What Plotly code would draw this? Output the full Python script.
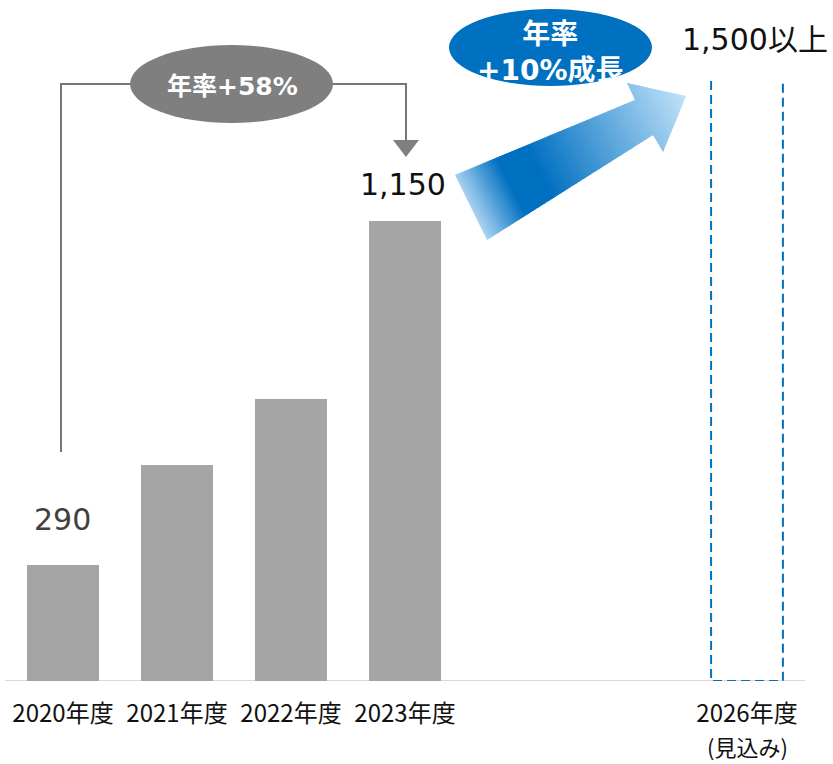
import plotly.graph_objects as go

# ---- data -------------------------------------------------------------
years = ["2020年度", "2021年度", "2022年度", "2023年度"]
sales = [290, 540, 705, 1150]
outlook_year = "2026年度"
outlook_note = "(見込み)"
outlook_value = 1500
outlook_text = "1,500以上"
cagr_past = "年率+58%"
cagr_future = "年率<br>+10%成長"

# slot positions on a numeric x axis (2026 sits three slots after 2023)
x_pos = [0, 1, 2, 3]
x_outlook = 6

W, H = 833, 764
BASE_PX = 681          # pixel row of the category axis
BAR_W = 0.63
BAR_COLOR = "#A5A5A5"
BLUE = "#0070C0"
GRAY = "#7F7F7F"
NUM_FONT = "DejaVu Sans, Noto Sans CJK JP, sans-serif"
JP_FONT = "Noto Sans CJK JP, sans-serif"


def px(x, y):
    """pixel position -> paper coordinates"""
    return x / W, 1 - y / H


def path_from(points):
    parts = []
    for i, (x, y) in enumerate(points):
        u, v = px(x, y)
        parts.append(("M" if i == 0 else "L") + f"{u:.5f},{v:.5f}")
    return " ".join(parts) + " Z"


fig = go.Figure()

fig.add_trace(go.Bar(
    x=x_pos, y=sales, width=BAR_W,
    marker=dict(color=BAR_COLOR, line=dict(width=0)),
    hoverinfo="skip", showlegend=False,
))

shapes = []
annotations = []

# category axis line
shapes.append(dict(type="line", xref="paper", yref="y",
                   x0=5 / W, x1=805 / W, y0=0, y1=0,
                   line=dict(color="#D9D9D9", width=2), layer="below"))

# dashed outline of the 2026 outlook bar (no top edge)
xl, xr = x_outlook - BAR_W / 2, x_outlook + BAR_W / 2
shapes.append(dict(type="path", xref="x", yref="y",
                   path=f"M{xl},{outlook_value} L{xl},0 L{xr},0 L{xr},{outlook_value}",
                   line=dict(color=BLUE, width=2, dash="9px,5px")))

# bracket from the 2020 bar to the 2023 bar
bracket = [(61, 452), (61, 84), (406, 84), (406, 142)]
bpath = " ".join(("M" if i == 0 else "L") + "%.5f,%.5f" % px(*p) for i, p in enumerate(bracket))
shapes.append(dict(type="path", xref="paper", yref="paper", path=bpath,
                   line=dict(color="#767676", width=2)))
shapes.append(dict(type="path", xref="paper", yref="paper",
                   path=path_from([(393, 140), (419, 140), (406, 157)]),
                   fillcolor=GRAY, line=dict(width=0)))

# gray growth bubble
x0, y1 = px(130, 45)
x1, y0 = px(333, 123)
shapes.append(dict(type="circle", xref="paper", yref="paper",
                   x0=x0, x1=x1, y0=y0, y1=y1,
                   fillcolor=GRAY, line=dict(width=0)))

# blue growth bubble
x0, y1 = px(449, 9)
x1, y0 = px(652, 86)
shapes.append(dict(type="circle", xref="paper", yref="paper",
                   x0=x0, x1=x1, y0=y0, y1=y1,
                   fillcolor=BLUE, line=dict(width=0)))

# ---- gradient arrow toward the 2026 outlook -----------------------------
arrow = [(455, 175), (635, 100), (627, 83), (686, 96), (663, 152), (653, 135), (487, 240)]
tail_mid = ((455 + 487) / 2, (175 + 240) / 2)
tip = (686, 96)
dx, dy = tip[0] - tail_mid[0], tip[1] - tail_mid[1]
L = (dx * dx + dy * dy) ** 0.5
ux, uy = dx / L, dy / L


def tval(p):
    return ((p[0] - tail_mid[0]) * ux + (p[1] - tail_mid[1]) * uy) / L


def clip(poly, t, keep_above):
    out = []
    n = len(poly)
    for i in range(n):
        a, b = poly[i], poly[(i + 1) % n]
        fa, fb = tval(a) - t, tval(b) - t
        if not keep_above:
            fa, fb = -fa, -fb
        if fa >= 0:
            out.append(a)
        if (fa >= 0) != (fb >= 0):
            s = fa / (fa - fb)
            out.append((a[0] + s * (b[0] - a[0]), a[1] + s * (b[1] - a[1])))
    return out


stops = [(0.0, (172, 212, 244)), (0.19, (0, 112, 192)), (0.32, (0, 112, 192)),
         (1.0, (192, 226, 250))]


def color_at(t):
    t = max(0.0, min(1.0, t))
    for (t0, c0), (t1, c1) in zip(stops[:-1], stops[1:]):
        if t <= t1:
            s = (t - t0) / (t1 - t0) if t1 > t0 else 0
            c = [round(c0[k] + s * (c1[k] - c0[k])) for k in range(3)]
            return "rgb(%d,%d,%d)" % tuple(c)
    return "rgb(%d,%d,%d)" % stops[-1][1]


ts = [tval(p) for p in arrow]
tmin, tmax = min(ts), max(ts)
N = 90
step = (tmax - tmin) / N
for i in range(N):
    a = tmin + i * step
    b = a + step * 1.6 if i < N - 1 else tmax + 0.01
    piece = clip(clip(arrow, a, True), b, False)
    if len(piece) < 3:
        continue
    shapes.append(dict(type="path", xref="paper", yref="paper",
                       path=path_from(piece),
                       fillcolor=color_at((a - tmin) + step / 2),
                       line=dict(width=0)))

# ---- text ---------------------------------------------------------------
annotations.append(dict(x=x_pos[0], y=sales[0], xref="x", yref="y",
                        text=f"{sales[0]:,}", showarrow=False,
                        yanchor="middle", yshift=46, xshift=-1,
                        font=dict(family=NUM_FONT, size=30, color="#404040")))
annotations.append(dict(x=x_pos[3], y=sales[3], xref="x", yref="y",
                        text=f"{sales[3]:,}", showarrow=False,
                        yanchor="middle", yshift=37, xshift=-2,
                        font=dict(family=NUM_FONT, size=30, color="#111111")))
ax, ay = px(755, 39)
annotations.append(dict(x=ax, y=ay, xref="paper", yref="paper",
                        text=outlook_text, showarrow=False,
                        xanchor="center", yanchor="middle",
                        font=dict(family=NUM_FONT, size=30, color="#111111")))
ax, ay = px(232, 86)
annotations.append(dict(x=ax, y=ay, xref="paper", yref="paper",
                        text=f"<b>{cagr_past}</b>", showarrow=False,
                        xanchor="center", yanchor="middle",
                        font=dict(family=NUM_FONT, size=25, color="white")))
ax, ay = px(550, 52)
annotations.append(dict(x=ax, y=ay, xref="paper", yref="paper",
                        text=f"<b>{cagr_future}</b>", showarrow=False,
                        xanchor="center", yanchor="middle",
                        font=dict(family=NUM_FONT, size=28, color="white")))
# note under the 2026 tick label
annotations.append(dict(x=x_outlook, y=px(0, 746)[1], xref="x", yref="paper",
                        text=outlook_note, showarrow=False,
                        xanchor="center", yanchor="middle",
                        font=dict(family=JP_FONT, size=22, color="#111111")))

y_top = BASE_PX / 0.4   # 0.4 px per unit
fig.update_layout(
    width=W, height=H,
    margin=dict(l=0, r=0, t=0, b=0),
    paper_bgcolor="white", plot_bgcolor="white",
    bargap=0,
    xaxis=dict(range=[-63 / 114, (W - 63) / 114], domain=[0, 1],
               tickmode="array", tickvals=x_pos + [x_outlook],
               ticktext=years + [outlook_year],
               tickfont=dict(family=JP_FONT, size=24, color="#111111"),
               ticklabelstandoff=16,
               showline=False, showgrid=False, zeroline=False, ticks="",
               fixedrange=True),
    yaxis=dict(range=[0, y_top], domain=[1 - BASE_PX / H, 1],
               visible=False, fixedrange=True),
    shapes=shapes,
    annotations=annotations,
)

fig.write_html("out.html")
